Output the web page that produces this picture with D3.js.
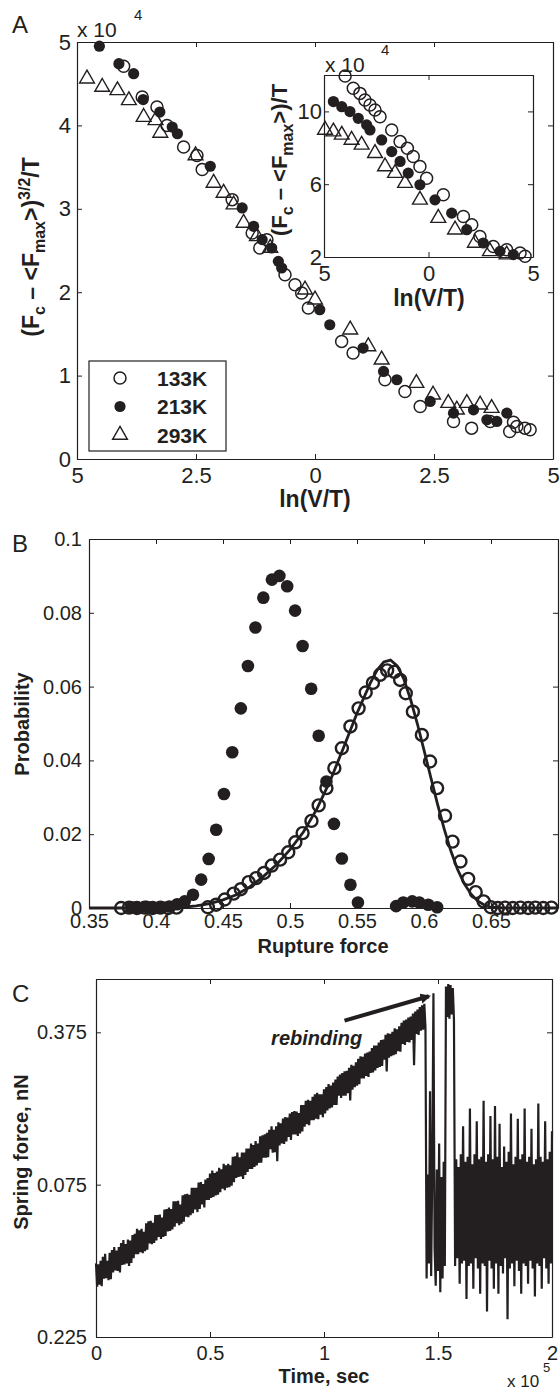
<!DOCTYPE html>
<html>
<head>
<meta charset="utf-8">
<script src="https://cdn.jsdelivr.net/npm/d3@7"></script>
<style>
  body { margin: 0; background: #fff; }
  svg { display: block; font-family: "Liberation Sans", Arial, Helvetica, sans-serif; }
</style>
</head>
<body>
<svg id="fig" width="560" height="1391"></svg>
<script>
// ---------- panel A, main plot: (Fc - <Fmax>)^(3/2)/T  (x 1e4)  vs ln(V/T)
var mainOpen = [[-4.02,4.71],[-3.63,4.34],[-3.32,4.22],[-3.11,4.00],[-2.76,3.74],[-2.48,3.64],[-2.37,3.47],
  [-1.74,3.11],[-1.32,2.71],[-1.16,2.53],[-1.01,2.63],[-0.63,2.21],[-0.42,2.09],[-0.28,1.99],[-0.14,1.81],
  [0.56,1.41],[0.80,1.27],[1.47,0.95],[1.89,0.81],[2.21,0.63],[2.91,0.45],[3.29,0.37],[3.68,0.45],
  [4.09,0.33],[4.17,0.44],[4.24,0.39],[4.41,0.37],[4.52,0.35]];
var mainFilled = [[-4.53,4.95],[-4.12,4.74],[-3.81,4.62],[-3.61,4.31],[-3.26,4.16],[-3.00,3.98],[-2.89,3.90],
  [-2.20,3.51],[-1.53,3.01],[-1.29,2.79],[-1.11,2.63],[-0.91,2.53],[-0.77,2.37],[-0.70,2.29],[0.10,1.79],
  [0.31,1.61],[1.01,1.33],[1.44,1.05],[1.72,0.95],[2.42,0.69],[2.91,0.55],[3.33,0.59],[3.61,0.47],
  [3.82,0.45],[4.03,0.55]];
var mainTri = [[-4.79,4.56],[-4.47,4.46],[-4.15,4.42],[-3.91,4.30],[-3.60,4.10],[-3.35,4.06],[-3.25,3.91],
  [-2.51,3.64],[-2.13,3.31],[-1.92,3.19],[-1.71,3.05],[-1.50,2.83],[-1.22,2.67],[-0.94,2.53],[-0.21,2.03],
  [0.00,1.91],[0.74,1.55],[1.12,1.35],[1.40,1.19],[2.13,0.91],[2.48,0.77],[2.80,0.67],[2.98,0.59],
  [3.19,0.67],[3.47,0.65],[3.71,0.61]];
var mainXTicks = [-5, -2.5, 0, 2.5, 5];
var mainYTicks = [0, 1, 2, 3, 4, 5];

// ---------- panel A, inset: (Fc - <Fmax>)/T  (x 1e4)
var insetOpen = [[-3.99,11.94],[-3.60,11.27],[-3.28,10.99],[-3.04,10.63],[-2.80,10.35],[-2.56,10.08],
  [-2.32,9.71],[-1.76,8.98],[-1.36,8.34],[-1.01,7.98],[-0.73,7.52],[-0.41,6.97],[-0.09,6.33],[0.71,5.42],
  [1.67,4.23],[2.07,3.77],[2.46,3.13],[3.10,2.58],[3.74,2.40],[4.38,2.22],[4.62,2.04]];
var insetFilled = [[-4.55,10.54],[-4.15,10.26],[-3.76,9.99],[-3.36,9.62],[-2.96,9.26],[-2.80,8.98],
  [-2.24,8.43],[-1.76,7.79],[-1.36,7.25],[-0.97,6.61],[-0.41,5.97],[0.31,5.14],[1.11,4.41],[1.83,3.50],
  [2.62,2.77],[3.42,2.31],[4.06,2.13]];
var insetTri = [[-4.95,8.98],[-4.55,8.89],[-4.15,8.71],[-3.68,8.43],[-3.20,8.16],[-2.56,7.70],[-2.08,6.97],
  [-1.60,6.61],[-1.12,6.06],[-0.41,5.14],[0.47,4.14],[1.27,3.50],[2.22,2.77],[2.94,2.31],[3.74,2.13]];
var insetXTicks = [-5, 0, 5];
var insetYTicks = [2, 6, 10];

var legendLabels = ["133K", "213K", "293K"];

// ---------- panel B: rupture force histograms
var probFilled = [[0.3816,0.0002],[0.3873,0],[0.3930,0.0003],[0.3987,0],[0.4044,0.0002],[0.4101,0.0004],
  [0.4158,0.0010],[0.4214,0.0018],[0.4276,0.0036],[0.4337,0.0077],[0.4393,0.0133],[0.4449,0.0212],
  [0.4507,0.0309],[0.4569,0.0422],[0.4633,0.0541],[0.4686,0.0656],[0.4742,0.0760],[0.4801,0.0841],
  [0.4865,0.0890],[0.4921,0.0900],[0.4979,0.0872],[0.5038,0.0806],[0.5094,0.0710],[0.5158,0.0594],
  [0.5214,0.0467],[0.5272,0.0343],[0.5328,0.0228],[0.5387,0.0134],[0.5451,0.0063],[0.5507,0.0015],
  [0.5792,0.0005],[0.5845,0.0015],[0.5912,0.0018],[0.5965,0.0015],[0.6032,0.0009],[0.6098,0.0002]];
var probOpen = [[0.3740,0],[0.3799,0.0001],[0.3857,0],[0.3916,0.0001],[0.3974,0],[0.4033,0.0001],
  [0.4092,0],[0.4153,0.0001],[0.4387,0.0002],[0.4449,0.0009],[0.4513,0.0023],[0.4579,0.0039],
  [0.4633,0.0051],[0.4691,0.0070],[0.4747,0.0081],[0.4806,0.0095],[0.4864,0.0115],[0.4926,0.0131],
  [0.4987,0.0151],[0.5040,0.0178],[0.5094,0.0203],[0.5160,0.0236],[0.5214,0.0278],[0.5272,0.0325],
  [0.5331,0.0379],[0.5387,0.0433],[0.5451,0.0492],[0.5512,0.0541],[0.5565,0.0584],[0.5619,0.0610],
  [0.5672,0.0632],[0.5725,0.0644],[0.5779,0.0640],[0.5822,0.0618],[0.5864,0.0582],[0.5917,0.0532],
  [0.5984,0.0469],[0.6045,0.0397],[0.6098,0.0325],[0.6157,0.0250],[0.6213,0.0180],[0.6272,0.0126],
  [0.6330,0.0079],[0.6386,0.0043],[0.6445,0.0018],[0.6498,0.0002],[0.6551,0],[0.6605,0.0001],
  [0.6663,0],[0.6719,0.0001],[0.6778,0],[0.6831,0.0001],[0.6890,0],[0.6951,0.0001]];
var probFit = [[0.35,0],[0.40,0],[0.42,0.0002],[0.43,0.0006],[0.44,0.0012],[0.45,0.0022],[0.46,0.0036],
  [0.47,0.0057],[0.48,0.0085],[0.49,0.0118],[0.50,0.0158],[0.51,0.0206],[0.52,0.0268],[0.53,0.0345],
  [0.54,0.0435],[0.55,0.0528],[0.56,0.0610],[0.565,0.0645],[0.57,0.0667],[0.575,0.0672],[0.58,0.0656],
  [0.585,0.0620],[0.59,0.0565],[0.595,0.0500],[0.60,0.0428],[0.605,0.0355],[0.61,0.0283],[0.615,0.0215],
  [0.62,0.0155],[0.625,0.0105],[0.63,0.0066],[0.635,0.0038],[0.64,0.0019],[0.645,0.0008],[0.65,0.0002],
  [0.66,0],[0.70,0]];
var probXTicks = [0.35, 0.4, 0.45, 0.5, 0.55, 0.6, 0.65, 0.7];
var probYTicks = [0, 0.02, 0.04, 0.06, 0.08, 0.1];

// ---------- panel C: spring force trace (nN), one sample every forceStep seconds
var forceStep = 500;
var springForce = [
  -0.080,-0.126,-0.082,-0.122,-0.075,-0.125,-0.067,-0.110,-0.061,-0.109,
  -0.075,-0.113,-0.059,-0.111,-0.054,-0.098,-0.048,-0.094,-0.055,-0.095,
  -0.048,-0.098,-0.040,-0.083,-0.034,-0.082,-0.042,-0.080,-0.033,-0.085,
  -0.035,-0.079,-0.024,-0.070,-0.022,-0.062,-0.012,-0.062,-0.015,-0.058,
  -0.012,-0.060,-0.018,-0.056,-0.001,-0.053,0.003,-0.041,0.004,-0.042,
  0.000,-0.040,0.015,-0.035,0.015,-0.028,0.016,-0.032,0.010,-0.028,
  0.026,-0.026,0.027,-0.017,0.030,-0.016,0.027,-0.013,0.042,-0.008,
  0.042,-0.001,0.043,-0.005,0.036,-0.002,0.054,0.002,0.056,0.012,
  0.057,0.011,0.055,0.015,0.069,0.019,0.069,0.026,0.069,0.021,
  0.079,0.027,0.080,0.036,0.076,0.030,0.085,0.045,0.088,0.045,
  0.097,0.049,0.103,0.051,0.098,0.054,0.101,0.055,0.108,0.060,
  0.105,0.067,0.116,0.064,0.113,0.069,0.116,0.070,0.113,0.073,
  0.130,0.080,0.131,0.088,0.138,0.090,0.129,0.091,0.138,0.086,
  0.138,0.094,0.146,0.100,0.146,0.106,0.156,0.106,0.153,0.110,
  0.161,0.113,0.156,0.118,0.170,0.118,0.172,0.128,0.174,0.128,
  0.177,0.129,0.183,0.145,0.190,0.138,0.183,0.139,0.190,0.121,
  0.198,0.152,0.196,0.156,0.205,0.155,0.208,0.160,0.207,0.169,
  0.215,0.163,0.218,0.174,0.220,0.174,0.219,0.171,0.216,0.176,
  0.232,0.180,0.232,0.189,0.240,0.194,0.242,0.192,0.240,0.202,
  0.248,0.202,0.253,0.205,0.256,0.204,0.253,0.213,0.253,0.208,
  0.263,0.215,0.267,0.221,0.273,0.225,0.270,0.227,0.276,0.232,
  0.282,0.232,0.288,0.250,0.292,0.246,0.295,0.250,0.298,0.250,
  0.299,0.255,0.305,0.241,0.311,0.262,0.309,0.267,0.316,0.270,
  0.323,0.273,0.328,0.284,0.327,0.284,0.333,0.289,0.335,0.287,
  0.337,0.295,0.344,0.296,0.349,0.300,0.349,0.305,0.355,0.307,
  0.360,0.309,0.361,0.321,0.370,0.298,0.373,0.325,0.372,0.328,
  0.376,0.330,0.383,0.332,0.381,0.338,0.387,0.337,0.394,0.352,
  0.398,0.350,0.400,0.356,0.404,0.355,0.406,0.360,0.412,0.310,
  0.416,0.372,0.420,0.370,0.425,0.378,0.428,0.380,0.431,0.385,
  // release, rebinding spike and the short re-attached plateau
  -0.110,0.095,-0.080,0.259,-0.105,0.110,0.452,-0.050,-0.124,0.105,
  -0.095,0.156,-0.137,0.090,-0.110,0.120,-0.085,0.465,0.405,0.470,
  0.402,0.468,0.410,0.462,0.400,-0.085,
  // free cantilever noise
  0.125,-0.070,0.110,-0.120,0.135,-0.080,0.190,-0.075,0.120,-0.150,
  0.130,-0.085,0.225,-0.080,0.115,-0.130,0.135,-0.070,0.200,-0.090,
  0.125,-0.140,0.130,-0.080,0.240,-0.085,0.120,-0.175,0.135,-0.075,
  0.210,-0.090,0.125,-0.130,0.230,-0.080,0.130,-0.140,0.195,-0.085,
  0.110,-0.100,0.150,-0.070,0.120,-0.190,0.140,-0.090,0.215,-0.080,
  0.115,-0.125,0.130,-0.075,0.205,-0.095,0.125,-0.140,0.135,-0.080,
  0.225,-0.085,0.120,-0.120,0.130,-0.075,0.185,-0.090,0.115,-0.145,
  0.125,-0.080,0.235,-0.085,0.130,-0.130,0.120,-0.070,0.200,-0.090,
  0.125,-0.120,0.140,-0.080,0.180];
var timeTicks = [0, 50000, 100000, 150000, 200000];
var forceTicks = [-0.225, 0.075, 0.375];

var ink = "#231f20";
var svg = d3.select("#fig");

// scales (pixel ranges are the axes boxes)
var xA = d3.scaleLinear().domain([-5, 5]).range([77, 553]);
var yA = d3.scaleLinear().domain([0, 5]).range([459, 42]);
var xI = d3.scaleLinear().domain([-5, 5]).range([324, 533]);
var yI = d3.scaleLinear().domain([2, 12]).range([257, 75]);
var xB = d3.scaleLinear().domain([0.35, 0.7]).range([89, 558]);
var yB = d3.scaleLinear().domain([0, 0.1]).range([908, 539]);
var xC = d3.scaleLinear().domain([0, 200000]).range([96, 552]);
var yC = d3.scaleLinear().domain([-0.225, 0.48]).range([1337, 979]);

function styleAxis(g, fs) {
    g.attr("font-family", null).attr("font-size", fs);
    g.select(".domain").attr("stroke", ink).attr("stroke-width", 1.2);
    g.selectAll(".tick line").attr("stroke", ink).attr("stroke-width", 1);
    g.selectAll(".tick text").attr("fill", ink);
}

// box with inward ticks on all four sides, like matlab
function frame(x, y, o) {
    var xr = x.range(), yr = y.range();
    var g = svg.append("g");
    g.append("rect")
        .attr("x", xr[0]).attr("y", yr[1])
        .attr("width", xr[1] - xr[0]).attr("height", yr[0] - yr[1])
        .attr("fill", "#fff");
    g.append("g").attr("transform", "translate(0," + yr[0] + ")")
        .call(d3.axisBottom(x).tickValues(o.xt).tickFormat(o.xf).tickSizeInner(-5).tickSizeOuter(0).tickPadding(o.xpad))
        .call(styleAxis, o.fs);
    g.append("g").attr("transform", "translate(0," + yr[1] + ")")
        .call(d3.axisTop(x).tickValues(o.xt).tickFormat("").tickSizeInner(-5).tickSizeOuter(0))
        .call(styleAxis, o.fs);
    g.append("g").attr("transform", "translate(" + xr[0] + ",0)")
        .call(d3.axisLeft(y).tickValues(o.yt).tickFormat(o.yf).tickSizeInner(-5).tickSizeOuter(0).tickPadding(o.ypad))
        .call(styleAxis, o.fs);
    g.append("g").attr("transform", "translate(" + xr[1] + ",0)")
        .call(d3.axisRight(y).tickValues(o.yt).tickFormat("").tickSizeInner(-5).tickSizeOuter(0))
        .call(styleAxis, o.fs);
    return g;
}

function openDots(g, data, x, y, r, sw) {
    g.selectAll(null).data(data).enter().append("circle")
        .attr("cx", function (d) { return x(d[0]); })
        .attr("cy", function (d) { return y(d[1]); })
        .attr("r", r).attr("fill", "none").attr("stroke", ink).attr("stroke-width", sw);
}

function filledDots(g, data, x, y, r) {
    g.selectAll(null).data(data).enter().append("circle")
        .attr("cx", function (d) { return x(d[0]); })
        .attr("cy", function (d) { return y(d[1]); })
        .attr("r", r).attr("fill", ink);
}

var tri = d3.symbol().type(d3.symbolTriangle).size(95);
function triangles(g, data, x, y) {
    g.selectAll(null).data(data).enter().append("path")
        .attr("d", tri)
        .attr("transform", function (d) { return "translate(" + x(d[0]) + "," + y(d[1]) + ")"; })
        .attr("fill", "none").attr("stroke", ink).attr("stroke-width", 1.4);
}

function label(x, y, txt, fs, opts) {
    opts = opts || {};
    return svg.append("text")
        .attr("x", x).attr("y", y)
        .attr("font-size", fs)
        .attr("font-weight", opts.bold ? "bold" : null)
        .attr("font-style", opts.italic ? "italic" : null)
        .attr("text-anchor", opts.anchor || "start")
        .attr("fill", ink)
        .text(txt);
}

// rotated label with sub/superscript pieces: [text, shift]
function richLabel(cx, cy, parts, fs, small) {
    var t = svg.append("text")
        .attr("transform", "translate(" + cx + "," + cy + ") rotate(-90)")
        .attr("text-anchor", "middle").attr("font-weight", "bold")
        .attr("font-size", fs).attr("fill", ink);
    var cur = 0;
    parts.forEach(function (p) {
        var s = t.append("tspan").attr("dy", p[1] - cur).text(p[0]);
        if (p[1] !== 0) s.attr("font-size", small);
        cur = p[1];
    });
    return t;
}

var absFmt = function (d) { return String(Math.abs(d)); };

// ================= panel A =================
var gA = frame(xA, yA, { xt: mainXTicks, yt: mainYTicks, xf: absFmt, yf: absFmt, xpad: 8, ypad: 6, fs: 22 });
openDots(gA, mainOpen, xA, yA, 6, 1.5);
filledDots(gA, mainFilled, xA, yA, 5.6);
triangles(gA, mainTri, xA, yA);

label(12, 33, "A", 24);
label(77, 37, "x 10", 21);
label(134, 20, "4", 15);
label(315, 507, "ln(V/T)", 23, { bold: true, anchor: "middle" });
richLabel(39, 247, [["(F", 0], ["c", 6], [" \u2013 <F", 0], ["max", 6], [">)", 0], ["3/2", -9], ["/T", 0]], 23, 16);

// legend
var leg = svg.append("g");
leg.append("rect").attr("x", 89).attr("y", 361).attr("width", 137).attr("height", 90)
    .attr("fill", "#fff").attr("stroke", ink).attr("stroke-width", 1.2);
var legY = d3.scalePoint().domain(legendLabels).range([378, 435]);
openDots(leg, [[0, legendLabels[0]]], function () { return 120; }, legY, 6, 1.5);
filledDots(leg, [[0, legendLabels[1]]], function () { return 120; }, legY, 5.6);
triangles(leg, [[0, legendLabels[2]]], function () { return 120; }, legY);
leg.selectAll(null).data(legendLabels).enter().append("text")
    .attr("x", 157).attr("y", function (d) { return legY(d); }).attr("dy", "0.36em")
    .attr("font-size", 21).attr("font-weight", "bold").attr("fill", ink)
    .text(function (d) { return d; });

// inset
var gI = frame(xI, yI, { xt: insetXTicks, yt: insetYTicks, xf: absFmt, yf: absFmt, xpad: 8, ypad: 2, fs: 22 });
openDots(gI, insetOpen, xI, yI, 6, 1.5);
filledDots(gI, insetFilled, xI, yI, 5.6);
triangles(gI, insetTri, xI, yI);
label(325, 72, "x 10", 21);
label(381, 55, "4", 15);
label(429, 306, "ln(V/T)", 23, { bold: true, anchor: "middle" });
richLabel(287, 160, [["(F", 0], ["c", 6], [" \u2013 <F", 0], ["max", 6], [">)/T", 0]], 22, 16);

// ================= panel B =================
var gB = frame(xB, yB, {
    xt: probXTicks, yt: probYTicks,
    xf: function (d) { return d > 0.69 ? "" : String(d); },
    yf: function (d) { return String(d); },
    xpad: 6, ypad: 7, fs: 20
});
gB.append("path").datum(probFit)
    .attr("d", d3.line().x(function (d) { return xB(d[0]); }).y(function (d) { return yB(d[1]); }))
    .attr("fill", "none").attr("stroke", ink).attr("stroke-width", 2.8);
openDots(gB, probOpen, xB, yB, 6, 2.4);
filledDots(gB, probFilled, xB, yB, 6.3);

label(12, 552, "B", 24);
label(323, 953, "Rupture force", 20, { bold: true, anchor: "middle" });
richLabel(29, 724, [["Probability", 0]], 20, 14);

// ================= panel C =================
var gC = frame(xC, yC, {
    xt: timeTicks, yt: forceTicks,
    xf: function (d) { return String(d / 100000); },
    yf: absFmt,
    xpad: 9, ypad: 9, fs: 20
});
var trace = springForce.map(function (v, i) { return [i * forceStep, v]; });
gC.append("path").datum(trace)
    .attr("d", d3.line().x(function (d) { return xC(d[0]); }).y(function (d) { return yC(d[1]); }))
    .attr("fill", "none").attr("stroke", ink).attr("stroke-width", 2.2).attr("stroke-linejoin", "bevel");

// rebinding arrow, placed in data coordinates
var arrowFrom = [109000, 0.398], arrowTo = [146000, 0.446];
svg.append("defs").append("marker")
    .attr("id", "head").attr("viewBox", "0 0 10 10").attr("refX", 8).attr("refY", 5)
    .attr("markerWidth", 2.6).attr("markerHeight", 2.6).attr("orient", "auto")
    .append("path").attr("d", "M0,0L10,5L0,10z").attr("fill", ink);
svg.append("line")
    .attr("x1", xC(arrowFrom[0])).attr("y1", yC(arrowFrom[1]))
    .attr("x2", xC(arrowTo[0])).attr("y2", yC(arrowTo[1]))
    .attr("stroke", ink).attr("stroke-width", 4).attr("marker-end", "url(#head)");
label(xC(76800), yC(0.351), "rebinding", 20, { bold: true, italic: true });

label(12, 1002, "C", 24);
label(324, 1383, "Time, sec", 20, { bold: true, anchor: "middle" });
label(507, 1387, "x 10", 17);
label(543, 1372, "5", 13);
richLabel(28, 1152, [["Spring force, nN", 0]], 20, 14);
</script>
</body>
</html>
